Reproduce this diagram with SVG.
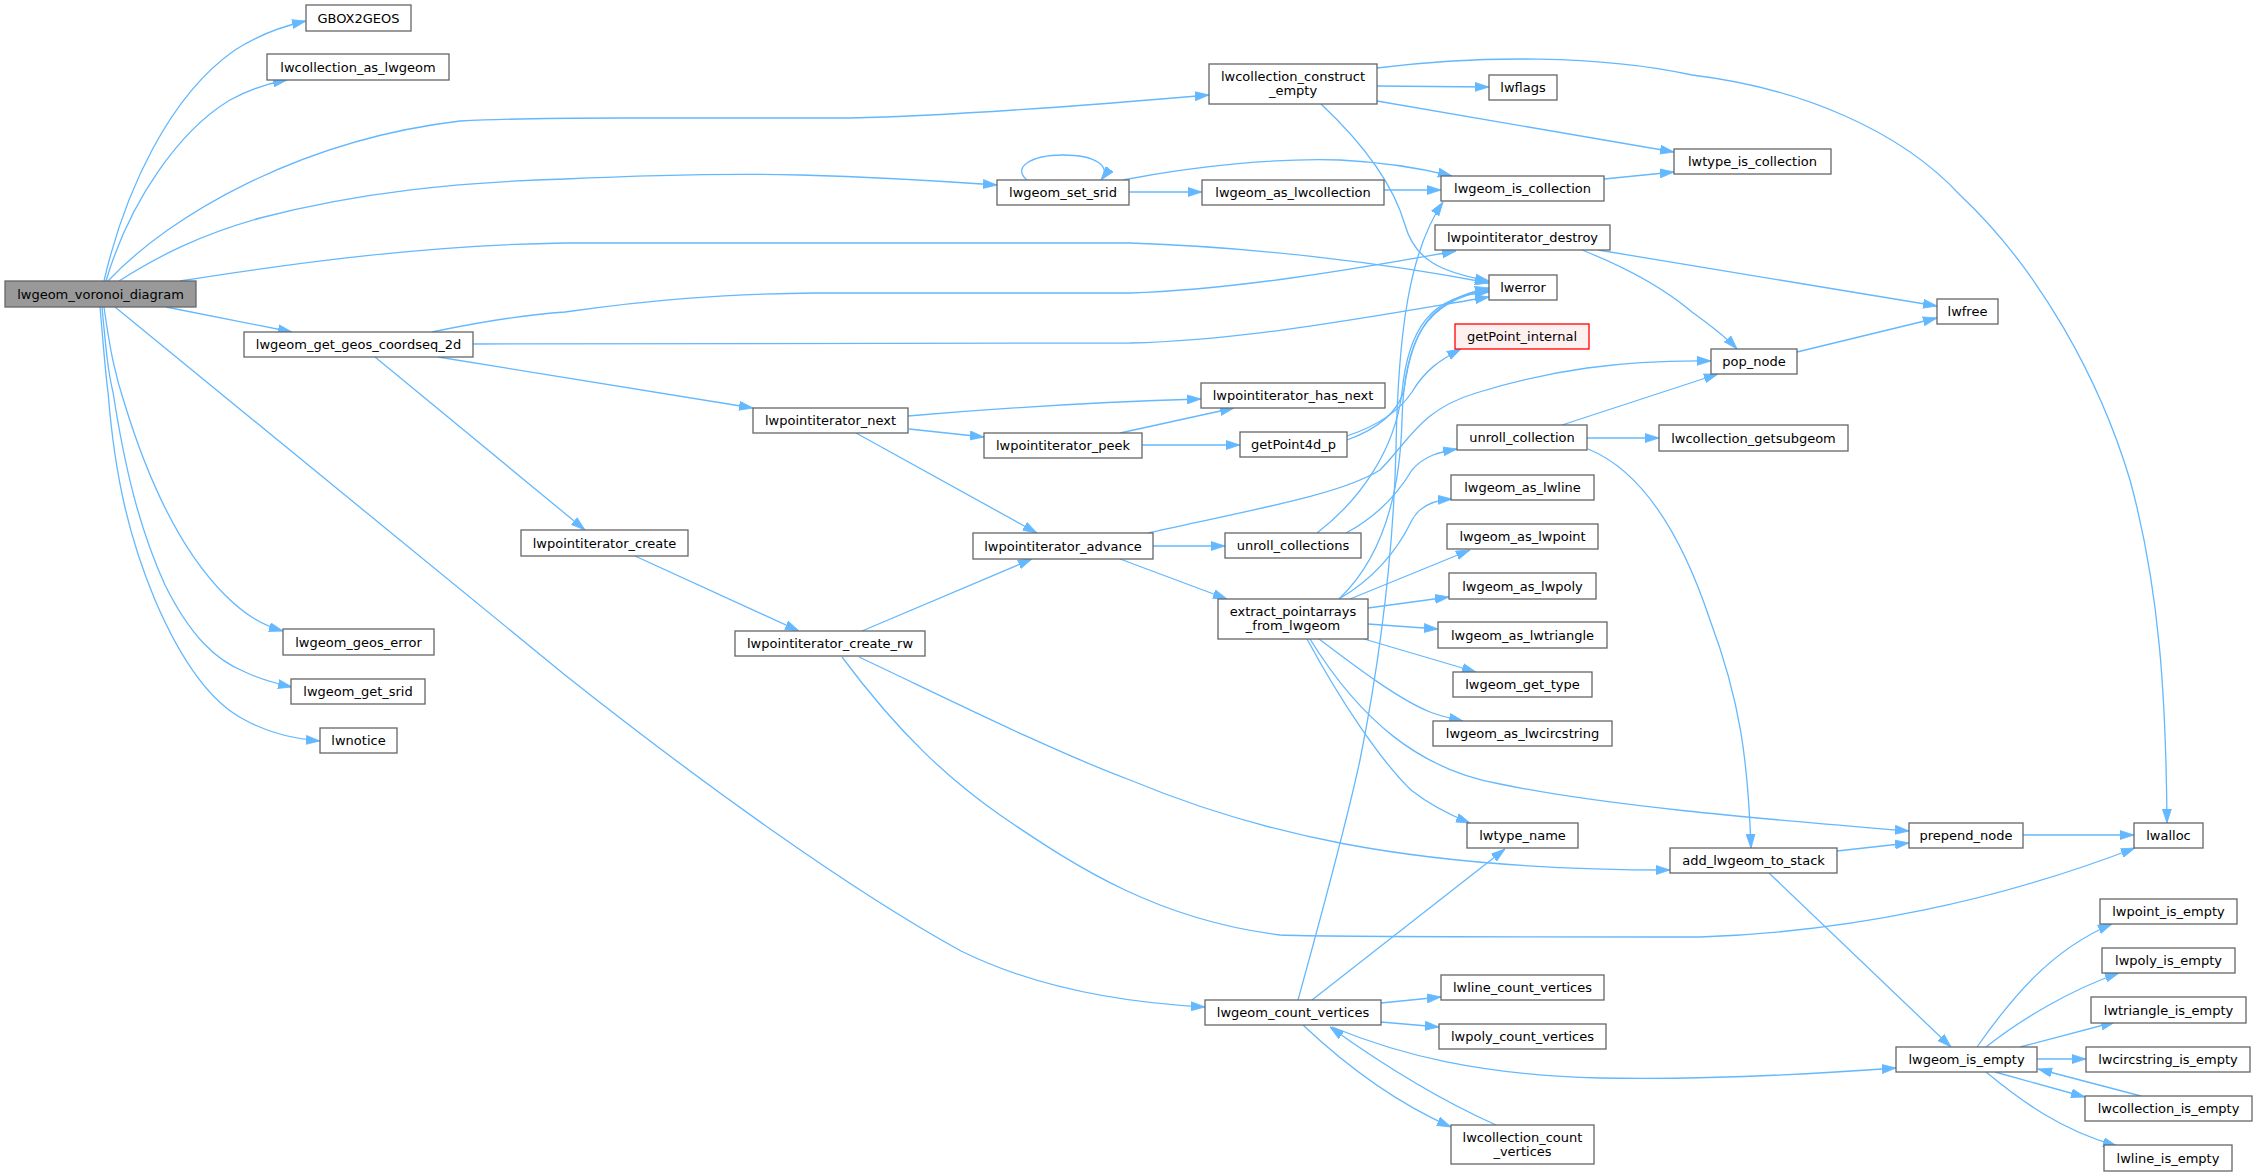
<svg xmlns="http://www.w3.org/2000/svg" width="2257" height="1176" viewBox="0 0 2257 1176">
<style>
rect{fill:#fff;stroke:#666;stroke-width:1.3}
rect.root{fill:#999}
rect.red{fill:#fff0f0;stroke:#f00}
text{font-family:'DejaVu Sans','Liberation Sans',sans-serif;font-size:13px;text-anchor:middle;fill:#000}
#edges path{fill:none;stroke:#63b8ff;stroke-width:1.3;marker-end:url(#a)}
</style>
<defs>
<marker id="a" markerUnits="userSpaceOnUse" markerWidth="14" markerHeight="10" viewBox="0 0 14 10" refX="14" refY="5" orient="auto">
<path d="M0,0.5 L14,5 L0,9.5 Z" fill="#63b8ff" stroke="#63b8ff" stroke-width="0.8"/>
</marker>
</defs>
<rect x="0" y="0" width="2257" height="1176" style="fill:#fff;stroke:none"/>
<g id="edges">
<path d="M104,281 C125,190 170,95 235,50 C255,37 275,28 306,21"/>
<path d="M106,281 C130,200 180,130 230,100 C248,90 265,84 287,80"/>
<path d="M108,281 C170,215 300,140 460,121 C520,118 560,118 620,118 L850,118 C950,116 1080,106 1209,95"/>
<path d="M119,281 C160,255 200,235 260,218 C360,192 460,182 565,179 C650,175 720,173 800,175 C870,177 940,181 997,185"/>
<path d="M180,281 C300,262 430,245 565,243 L1130,243 C1250,247 1380,262 1489,283"/>
<path d="M166,307 L292,332"/>
<path d="M115,307 L565,675 C700,782 850,890 961,951 C1030,985 1110,1002 1205,1007"/>
<path d="M104,307 C110,350 115,375 125,405 C145,470 175,545 225,595 C245,615 262,625 283,631"/>
<path d="M102,307 C106,350 108,372 113,392 C125,470 140,530 165,585 C190,635 215,660 245,672 C262,680 278,684 292,687"/>
<path d="M100,307 C103,340 105,370 108,392 C115,480 130,540 155,600 C185,670 215,705 245,720 C270,734 295,739 320,741"/>
<path d="M432,332 C480,322 520,315 565,312 C650,300 720,294 817,293 L1130,293 C1230,290 1350,270 1456,251"/>
<path d="M473,344 L1130,343 C1250,340 1380,315 1489,297"/>
<path d="M438,357 L753,408"/>
<path d="M375,357 L585,530"/>
<path d="M1377,86 L1489,87"/>
<path d="M1377,101 L1674,152"/>
<path d="M1377,68 C1480,55 1600,55 1692,75 C1800,88 1900,130 1960,195 C2040,270 2100,380 2130,480 C2160,590 2166,700 2167,823"/>
<path d="M1321,104 C1370,150 1395,190 1405,225 C1415,260 1440,272 1489,281"/>
<path d="M1027,180 C1012,168 1030,155 1063,155 C1095,155 1112,166 1101,180"/>
<path d="M1129,192 L1202,192"/>
<path d="M1123,180 C1200,165 1280,158 1340,160 C1380,162 1420,168 1452,176"/>
<path d="M1384,190 L1441,190"/>
<path d="M1604,179 L1674,172"/>
<path d="M1598,250 L1937,306"/>
<path d="M1582,250 C1620,265 1660,285 1692,312 C1710,325 1725,336 1737,349"/>
<path d="M1797,352 L1937,318"/>
<path d="M908,416 C1000,408 1100,402 1201,399"/>
<path d="M909,429 L984,437"/>
<path d="M856,433 L1037,533"/>
<path d="M1120,433 L1234,408"/>
<path d="M1142,445 L1240,445"/>
<path d="M1347,436 C1380,425 1400,410 1412,392 C1425,370 1440,360 1461,349"/>
<path d="M1347,440 C1380,428 1398,412 1404,390 C1412,330 1430,300 1489,288"/>
<path d="M1153,546 L1225,546"/>
<path d="M1120,559 L1227,599"/>
<path d="M1148,533 C1250,510 1340,495 1380,470 C1410,440 1420,410 1476,393 C1550,370 1620,360 1711,361"/>
<path d="M1346,533 C1380,515 1400,490 1412,470 C1425,455 1440,452 1457,449"/>
<path d="M1317,533 C1360,500 1395,450 1402,392 C1408,330 1430,295 1489,292"/>
<path d="M1587,438 L1659,438"/>
<path d="M1562,425 L1718,374"/>
<path d="M1588,449 C1640,470 1680,530 1710,620 C1740,700 1748,760 1751,848"/>
<path d="M635,556 L799,631"/>
<path d="M862,631 L1032,559"/>
<path d="M842,657 C900,735 950,780 1000,815 C1080,870 1160,920 1280,935 C1320,937 1500,937 1700,937 C1850,932 2000,900 2135,848"/>
<path d="M859,657 C950,700 1050,750 1130,780 C1250,830 1400,870 1670,870"/>
<path d="M1339,599 C1380,575 1400,545 1412,520 C1420,505 1435,500 1452,499"/>
<path d="M1350,599 L1470,550"/>
<path d="M1368,608 L1449,597"/>
<path d="M1368,624 L1438,629"/>
<path d="M1364,639 L1476,672"/>
<path d="M1319,639 C1360,670 1400,700 1430,712 C1440,716 1450,718 1463,721"/>
<path d="M1307,639 C1340,700 1380,760 1411,790 C1430,805 1450,815 1470,823"/>
<path d="M1310,639 C1360,720 1420,770 1500,784 C1600,805 1750,818 1909,831"/>
<path d="M1339,599 C1380,560 1400,500 1402,420 C1404,340 1425,300 1489,290"/>
<path d="M1298,1000 C1320,920 1345,830 1360,760 C1380,660 1393,560 1396,450 C1398,330 1410,250 1443,202"/>
<path d="M1312,1000 L1505,849"/>
<path d="M1381,1003 L1441,997"/>
<path d="M1381,1022 L1439,1027"/>
<path d="M1303,1025 C1340,1060 1390,1100 1451,1127"/>
<path d="M1332,1027 C1400,1055 1480,1075 1600,1078 C1700,1080 1800,1075 1896,1068"/>
<path d="M1496,1125 C1440,1100 1390,1070 1330,1027"/>
<path d="M1837,851 L1909,843"/>
<path d="M1769,873 L1951,1047"/>
<path d="M2023,835 L2134,835"/>
<path d="M1977,1047 C2010,1000 2050,950 2112,924"/>
<path d="M1986,1047 C2020,1020 2070,990 2119,973"/>
<path d="M2020,1047 L2115,1022"/>
<path d="M2037,1059 L2086,1059"/>
<path d="M1995,1072 L2085,1097"/>
<path d="M2141,1096 L2038,1069"/>
<path d="M1986,1072 C2020,1100 2060,1130 2117,1146"/>
</g>
<g id="n_voronoi"><rect class="root" x="5" y="281" width="191" height="26"/><text x="100.5" y="298.5">lwgeom_voronoi_diagram</text></g>
<g id="n_gbox2geos"><rect x="306" y="5" width="105" height="26"/><text x="358.5" y="22.5">GBOX2GEOS</text></g>
<g id="n_coll_as_lwgeom"><rect x="267" y="54" width="182" height="26"/><text x="358" y="71.5">lwcollection_as_lwgeom</text></g>
<g id="n_construct_empty"><rect x="1209" y="64" width="168" height="40"/><text x="1293" y="81">lwcollection_construct</text><text x="1293" y="95">_empty</text></g>
<g id="n_lwflags"><rect x="1489" y="75" width="68" height="25"/><text x="1523" y="92">lwflags</text></g>
<g id="n_lwtype_is_collection"><rect x="1674" y="149" width="157" height="25"/><text x="1752.5" y="166">lwtype_is_collection</text></g>
<g id="n_set_srid"><rect x="997" y="180" width="132" height="25"/><text x="1063" y="197">lwgeom_set_srid</text></g>
<g id="n_as_lwcollection"><rect x="1202" y="180" width="182" height="25"/><text x="1293" y="197">lwgeom_as_lwcollection</text></g>
<g id="n_is_collection"><rect x="1441" y="176" width="163" height="25"/><text x="1522.5" y="193">lwgeom_is_collection</text></g>
<g id="n_destroy"><rect x="1435" y="225" width="175" height="25"/><text x="1522.5" y="242">lwpointiterator_destroy</text></g>
<g id="n_lwerror"><rect x="1489" y="275" width="68" height="25"/><text x="1523" y="292">lwerror</text></g>
<g id="n_lwfree"><rect x="1937" y="299" width="61" height="25"/><text x="1967.5" y="316">lwfree</text></g>
<g id="n_getpoint_internal"><rect class="red" x="1455" y="324" width="134" height="25"/><text x="1522" y="341">getPoint_internal</text></g>
<g id="n_pop_node"><rect x="1711" y="349" width="86" height="25"/><text x="1754" y="366">pop_node</text></g>
<g id="n_coordseq"><rect x="244" y="332" width="229" height="25"/><text x="358.5" y="349">lwgeom_get_geos_coordseq_2d</text></g>
<g id="n_has_next"><rect x="1201" y="383" width="184" height="25"/><text x="1293" y="400">lwpointiterator_has_next</text></g>
<g id="n_next"><rect x="753" y="408" width="155" height="25"/><text x="830.5" y="425">lwpointiterator_next</text></g>
<g id="n_peek"><rect x="984" y="433" width="158" height="25"/><text x="1063" y="450">lwpointiterator_peek</text></g>
<g id="n_getpoint4d_p"><rect x="1240" y="432" width="107" height="25"/><text x="1293.5" y="449">getPoint4d_p</text></g>
<g id="n_unroll_collection"><rect x="1457" y="425" width="130" height="25"/><text x="1522" y="442">unroll_collection</text></g>
<g id="n_getsubgeom"><rect x="1659" y="425" width="189" height="26"/><text x="1753.5" y="442.5">lwcollection_getsubgeom</text></g>
<g id="n_as_lwline"><rect x="1451" y="475" width="143" height="25"/><text x="1522.5" y="492">lwgeom_as_lwline</text></g>
<g id="n_create"><rect x="521" y="530" width="167" height="26"/><text x="604.5" y="547.5">lwpointiterator_create</text></g>
<g id="n_advance"><rect x="973" y="533" width="180" height="26"/><text x="1063" y="550.5">lwpointiterator_advance</text></g>
<g id="n_unroll_collections"><rect x="1225" y="533" width="136" height="25"/><text x="1293" y="550">unroll_collections</text></g>
<g id="n_as_lwpoint"><rect x="1447" y="524" width="151" height="25"/><text x="1522.5" y="541">lwgeom_as_lwpoint</text></g>
<g id="n_as_lwpoly"><rect x="1449" y="573" width="147" height="26"/><text x="1522.5" y="590.5">lwgeom_as_lwpoly</text></g>
<g id="n_extract"><rect x="1218" y="599" width="150" height="40"/><text x="1293" y="616">extract_pointarrays</text><text x="1293" y="630">_from_lwgeom</text></g>
<g id="n_as_lwtriangle"><rect x="1438" y="622" width="169" height="26"/><text x="1522.5" y="639.5">lwgeom_as_lwtriangle</text></g>
<g id="n_geos_error"><rect x="283" y="629" width="151" height="26"/><text x="358.5" y="646.5">lwgeom_geos_error</text></g>
<g id="n_create_rw"><rect x="735" y="631" width="190" height="25"/><text x="830" y="648">lwpointiterator_create_rw</text></g>
<g id="n_get_srid"><rect x="291" y="679" width="134" height="25"/><text x="358" y="696">lwgeom_get_srid</text></g>
<g id="n_get_type"><rect x="1453" y="672" width="139" height="25"/><text x="1522.5" y="689">lwgeom_get_type</text></g>
<g id="n_as_lwcircstring"><rect x="1433" y="721" width="179" height="25"/><text x="1522.5" y="738">lwgeom_as_lwcircstring</text></g>
<g id="n_lwnotice"><rect x="320" y="728" width="77" height="25"/><text x="358.5" y="745">lwnotice</text></g>
<g id="n_lwtype_name"><rect x="1467" y="823" width="111" height="25"/><text x="1522.5" y="840">lwtype_name</text></g>
<g id="n_add_to_stack"><rect x="1670" y="848" width="167" height="25"/><text x="1753.5" y="865">add_lwgeom_to_stack</text></g>
<g id="n_prepend_node"><rect x="1909" y="823" width="114" height="25"/><text x="1966" y="840">prepend_node</text></g>
<g id="n_lwalloc"><rect x="2134" y="823" width="69" height="25"/><text x="2168.5" y="840">lwalloc</text></g>
<g id="n_lwpoint_is_empty"><rect x="2100" y="899" width="137" height="25"/><text x="2168.5" y="916">lwpoint_is_empty</text></g>
<g id="n_lwpoly_is_empty"><rect x="2102" y="948" width="133" height="25"/><text x="2168.5" y="965">lwpoly_is_empty</text></g>
<g id="n_lwline_count_vertices"><rect x="1441" y="975" width="163" height="25"/><text x="1522.5" y="992">lwline_count_vertices</text></g>
<g id="n_lwtriangle_is_empty"><rect x="2091" y="997" width="155" height="26"/><text x="2168.5" y="1014.5">lwtriangle_is_empty</text></g>
<g id="n_count_vertices"><rect x="1205" y="1000" width="176" height="25"/><text x="1293" y="1017">lwgeom_count_vertices</text></g>
<g id="n_lwpoly_count_vertices"><rect x="1439" y="1024" width="167" height="25"/><text x="1522.5" y="1041">lwpoly_count_vertices</text></g>
<g id="n_lwgeom_is_empty"><rect x="1896" y="1047" width="141" height="25"/><text x="1966.5" y="1064">lwgeom_is_empty</text></g>
<g id="n_lwcircstring_is_empty"><rect x="2086" y="1047" width="164" height="25"/><text x="2168" y="1064">lwcircstring_is_empty</text></g>
<g id="n_lwcollection_is_empty"><rect x="2085" y="1096" width="167" height="25"/><text x="2168.5" y="1113">lwcollection_is_empty</text></g>
<g id="n_lwcollection_count_vertices"><rect x="1451" y="1125" width="143" height="39"/><text x="1522.5" y="1141.5">lwcollection_count</text><text x="1522.5" y="1155.5">_vertices</text></g>
<g id="n_lwline_is_empty"><rect x="2104" y="1145" width="128" height="26"/><text x="2168" y="1162.5">lwline_is_empty</text></g>
</svg>
